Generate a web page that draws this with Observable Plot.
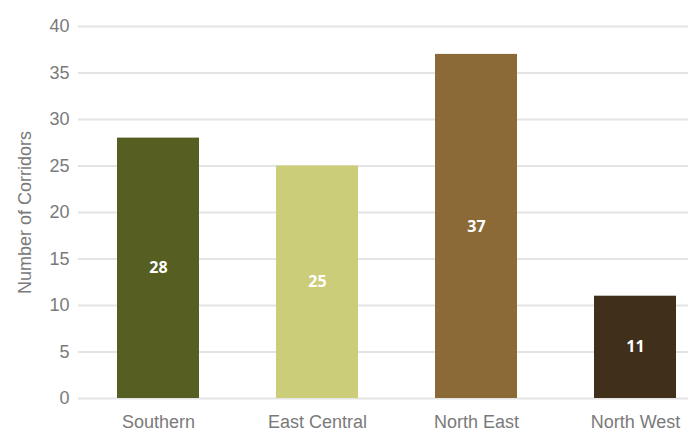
<!DOCTYPE html>
<html>
<head>
<meta charset="utf-8">
<script src="https://cdn.jsdelivr.net/npm/d3@7"></script>
<script src="https://cdn.jsdelivr.net/npm/@observablehq/plot@0.6"></script>
<style>
  html, body { margin: 0; padding: 0; background: #ffffff; }
  #chart svg { display: block; }
</style>
</head>
<body>
<div id="chart"></div>
<script>
const regions = ["Southern", "East Central", "North East", "North West"];
const corridors = [28, 25, 37, 11];
const barColors = ["#575e22", "#cccd78", "#8b6a38", "#3f2f1b"];
const yTicks = [0, 5, 10, 15, 20, 25, 30, 35, 40];

const data = regions.map((r, i) => ({region: r, value: corridors[i]}));

const chart = Plot.plot({
  width: 695,
  height: 437,
  marginTop: 26,
  marginBottom: 39,
  marginLeft: 78,
  marginRight: 7,
  style: {fontFamily: "Liberation Sans, Arial, sans-serif", background: "#ffffff"},
  x: {domain: regions, paddingInner: 0.486, paddingOuter: 0.155, align: 0.76, label: null},
  y: {domain: [0, 40], label: null},
  color: {domain: regions, range: barColors},
  marks: [
    Plot.gridY(yTicks, {stroke: "#e4e4e4", strokeOpacity: 1, strokeWidth: 2}),
    Plot.axisY(yTicks, {tickSize: 0, tickPadding: 9, fontSize: 18, fill: "#7a7a7a", label: null}),
    Plot.axisX({tickSize: 0, tickPadding: 17, fontSize: 18, fill: "#7a7a7a", label: null}),
    Plot.barY(data, {x: "region", y: "value", fill: "region"}),
    Plot.text(data, {x: "region", y: d => d.value / 2, text: d => String(d.value), fill: "white", fontSize: 16, fontWeight: "bold", fontFamily: "Open Sans, sans-serif"}),
    Plot.text(["Number of Corridors"], {frameAnchor: "left", textAnchor: "middle", dx: -53, rotate: -90, fontSize: 18, fill: "#7a7a7a", text: d => d})
  ]
});
document.getElementById("chart").appendChild(chart);
</script>
</body>
</html>
